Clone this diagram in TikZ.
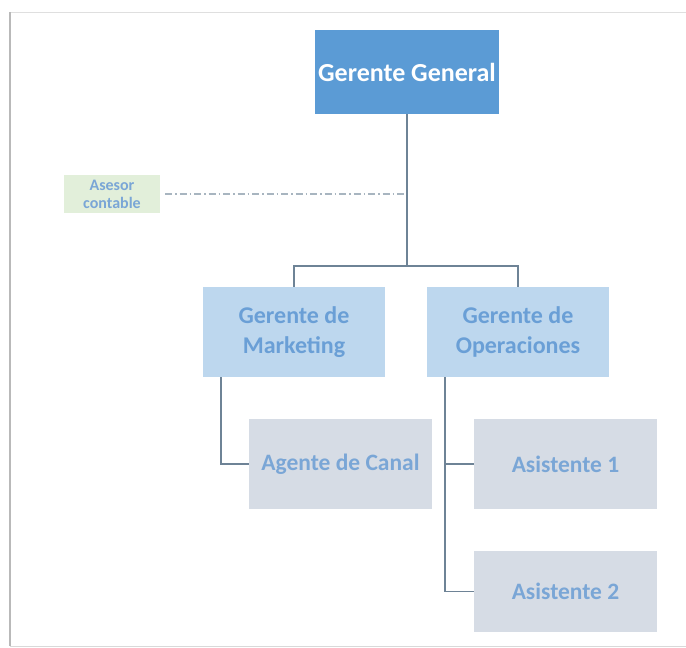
\documentclass[tikz,border=0pt]{standalone}
\usepackage{fontspec}
\setmainfont{Carlito}
\usetikzlibrary{positioning}
\definecolor{topblue}{HTML}{5B9BD5}
\definecolor{midblue}{HTML}{BDD7EE}
\definecolor{midtext}{HTML}{6A9FD6}
\definecolor{lowgray}{HTML}{D6DCE5}
\definecolor{lowtext}{HTML}{7AA6D6}
\definecolor{advgreen}{HTML}{E2EFDA}
\definecolor{linegray}{HTML}{6E8396}
\begin{document}
\begin{tikzpicture}[x=1pt,y=-1pt,
  topbox/.style={fill=topblue, text=white, font=\bfseries\fontsize{26}{28}\selectfont,
    minimum width=184pt, minimum height=84pt, inner sep=0pt},
  midbox/.style={fill=midblue, text=midtext, font=\bfseries\fontsize{24}{30}\selectfont,
    align=center, minimum width=182pt, minimum height=90pt, inner sep=0pt},
  lowbox/.style={fill=lowgray, text=lowtext, font=\bfseries\fontsize{23.5}{26}\selectfont,
    minimum width=183pt, minimum height=90pt, inner sep=0pt},
  advbox/.style={fill=advgreen, text=lowtext, font=\bfseries\fontsize{16}{18}\selectfont,
    align=center, minimum width=96pt, minimum height=38pt, inner sep=0pt},
  link/.style={draw, linegray, line width=1.6pt}]
\useasboundingbox (0,0) rectangle (686,648);
% frame
\path[draw, gray!25, line width=1pt] (10,12) -- (686,12);
\path[draw, gray!30, line width=1pt] (10,646) -- (686,646);
\path[draw, gray!55, line width=1.5pt] (10,12) -- (10,646);

\node[topbox] (gg) at (407,72) {Gerente General};
\node[advbox] (asesor) at (112,194) {Asesor\\contable};
\node[midbox] (mkt) at (294,332) {Gerente de\\Marketing};
\node[midbox] (ops) at (518,332) {Gerente de\\Operaciones};
\node[lowbox] (canal) at (340.5,464) {Agente de Canal};
\node[lowbox] (asis1) at (565.5,464) {Asistente 1};
\node[lowbox, minimum height=81pt] (asis2) at (565.5,591.5) {Asistente 2};

\coordinate (bar) at (407,266);
\coordinate (m1) at (221,377);
\coordinate (o1) at (445,377);

\path[link] (gg) -- (bar);
\path[link] (mkt.north) |- (bar) -| (ops.north);
\path[link] (m1) |- (canal.west);
\path[link] (o1) |- (asis1.west);
\path[link] (o1) |- (asis2.west);
\path[draw, linegray!60, line width=1.2pt, dash pattern=on 7pt off 3pt on 1.5pt off 3pt,
  shorten <=5pt, shorten >=2pt] (asesor.east) -- (asesor.east -| gg);
\end{tikzpicture}
\end{document}
